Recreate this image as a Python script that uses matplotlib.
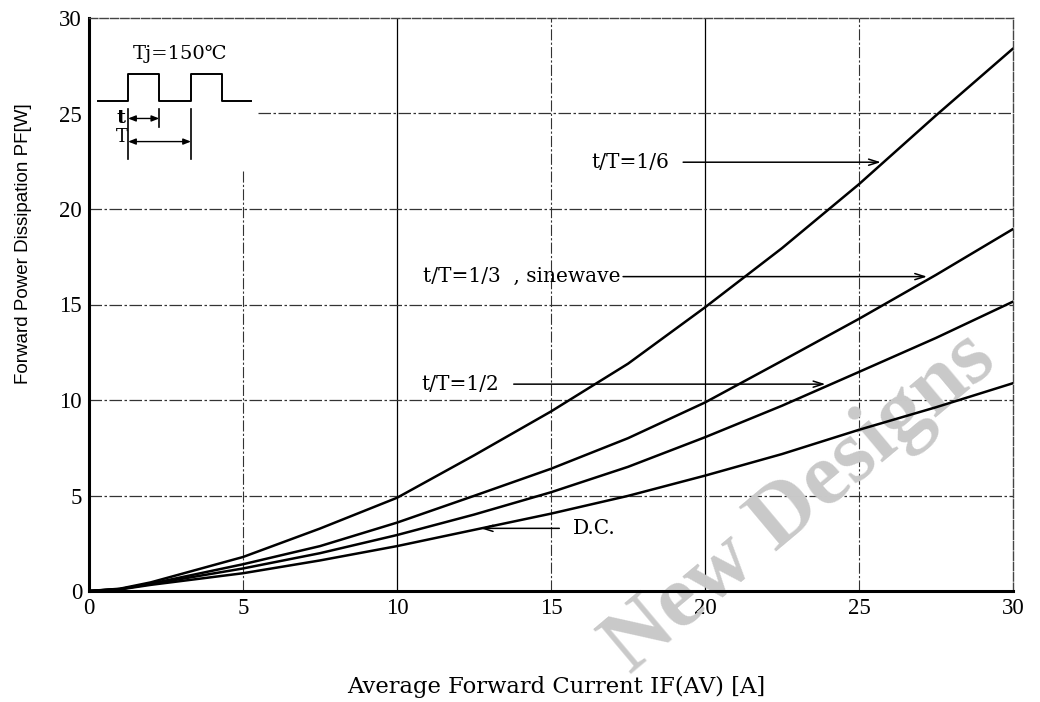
import matplotlib
matplotlib.use("Agg")
import matplotlib.pyplot as plt

# ---- data ----
current = [0, 1, 2, 5, 7.5, 10, 12.5, 15, 17.5, 20, 22.5, 25, 27.5, 30]
p_1_6 = [0, 0.12, 0.45, 1.78, 3.27, 4.88, 7.1, 9.4, 11.9, 14.85, 17.95, 21.3, 24.9, 28.4]
p_1_3 = [0, 0.1, 0.38, 1.4, 2.35, 3.58, 4.98, 6.4, 8.0, 9.87, 12.05, 14.25, 16.55, 18.95]
p_1_2 = [0, 0.1, 0.36, 1.18, 1.98, 2.93, 4.0, 5.17, 6.5, 8.05, 9.7, 11.47, 13.25, 15.15]
p_dc = [0, 0.08, 0.32, 0.93, 1.6, 2.35, 3.2, 4.05, 4.98, 6.04, 7.17, 8.44, 9.62, 10.88]
xticks = [0, 5, 10, 15, 20, 25, 30]
yticks = [0, 5, 10, 15, 20, 25, 30]
labels = ["t/T=1/6", "t/T=1/3  , sinewave", "t/T=1/2", "D.C."]

SERIF = ["DejaVu Serif"]
fig = plt.figure(figsize=(10.4, 7.02), dpi=100)
ax = fig.add_axes([89/1040, 1-591/702, (1013-89)/1040, (591-18)/702])
ax.set_xlim(0, 30)
ax.set_ylim(0, 30)

# grid
gls = (0, (10, 2, 2, 2))
for xv in xticks[1:-1]:
    if xv in (10, 20):
        ax.axvline(xv, color="black", lw=0.9, zorder=1)
    elif xv == 5:
        ax.axvline(xv, ymax=22.1/30, color="#333333", lw=0.8, ls=gls, zorder=1)
    else:
        ax.axvline(xv, color="#333333", lw=0.8, ls=gls, zorder=1)
for yv in yticks[1:-1]:
    if yv == 25:
        ax.axhline(yv, xmin=5.5/30, color="#333333", lw=0.9, ls=gls, zorder=1)
    else:
        ax.axhline(yv, color="#333333", lw=0.9, ls=gls, zorder=1)

# watermark
ax.text(800/1040, 1-503/702, "New Designs", transform=fig.transFigure, rotation=40,
        color="#c9c9c9", fontsize=64, fontweight="bold", family=["Liberation Serif"],
        ha="center", va="center", rotation_mode="anchor", zorder=2, clip_on=False)

# curves
for ys in (p_1_6, p_1_3, p_1_2, p_dc):
    ax.plot(current, ys, color="black", lw=1.8, zorder=3, solid_capstyle="round")

arrow = dict(arrowstyle="->,head_length=0.7,head_width=0.22", color="black", lw=1.1)
# annotations
FS = 14.5
ax.annotate("", xy=(25.8, 22.45), xytext=(19.2, 22.45), arrowprops=arrow, zorder=4)
ax.text(18.85, 22.45, labels[0], ha="right", va="center", fontsize=FS, family=SERIF)
ax.annotate("", xy=(27.3, 16.46), xytext=(17.25, 16.46), arrowprops=arrow, zorder=4)
ax.text(17.25, 16.46, labels[1], ha="right", va="center", fontsize=FS, family=SERIF)
ax.annotate("", xy=(24.0, 10.83), xytext=(13.7, 10.83), arrowprops=arrow, zorder=4)
ax.text(13.3, 10.83, labels[2], ha="right", va="center", fontsize=FS, family=SERIF)
ax.annotate("", xy=(12.63, 3.28), xytext=(15.36, 3.28), arrowprops=arrow, zorder=4)
ax.text(15.7, 3.28, labels[3], ha="left", va="center", fontsize=FS, family=SERIF)

# inset waveform
wx = [0.30, 1.27, 1.27, 2.28, 2.28, 3.31, 3.31, 4.31, 4.31, 5.25]
wy = [25.66, 25.66, 27.05, 27.05, 25.66, 25.66, 27.05, 27.05, 25.66, 25.66]
ax.plot(wx, wy, color="black", lw=1.4, zorder=4)
ax.plot([1.27, 1.27], [25.22, 22.62], color="black", lw=1.2)
ax.plot([2.28, 2.28], [25.22, 24.27], color="black", lw=1.2)
ax.plot([3.31, 3.31], [25.22, 22.62], color="black", lw=1.2)
arr2 = dict(arrowstyle="<|-|>,head_length=0.45,head_width=0.18", color="black", lw=1.0,
            shrinkA=0, shrinkB=0)
ax.annotate("", xy=(2.28, 24.74), xytext=(1.27, 24.74), arrowprops=arr2)
ax.annotate("", xy=(3.31, 23.53), xytext=(1.27, 23.53), arrowprops=arr2)
ax.text(1.05, 24.74, "t", ha="center", va="center", fontsize=14, family=SERIF, fontweight="bold")
ax.text(1.05, 23.75, "T", ha="center", va="center", fontsize=13, family=SERIF)
ax.text(2.95, 28.1, "Tj=150℃", ha="center", va="center", fontsize=14, family=SERIF)

# axes styling
for s in ("left", "bottom"):
    ax.spines[s].set_linewidth(2.2)
for s in ("top", "right"):
    ax.spines[s].set_linewidth(1.0)
    ax.spines[s].set_linestyle((0, (6, 1.5)))
    ax.spines[s].set_color("#444444")
ax.set_xticks(xticks)
ax.set_yticks(yticks)
ax.tick_params(axis="both", length=0, labelsize=16.5)
ax.tick_params(axis="x", pad=5)
ax.tick_params(axis="y", pad=5)
for lab in ax.get_xticklabels() + ax.get_yticklabels():
    lab.set_family(["Liberation Serif"])

ax.set_xlabel("Average Forward Current IF(AV) [A]", fontsize=16.3, family=SERIF, va="center")
ax.xaxis.set_label_coords((556-89)/924, (591-687)/573)
ax.set_ylabel("Forward Power Dissipation PF[W]", fontsize=13.5, family=["Liberation Sans"], va="center")
ax.yaxis.set_label_coords((24-89)/924, (591-244)/573)

fig.savefig("out.png", dpi=100)
